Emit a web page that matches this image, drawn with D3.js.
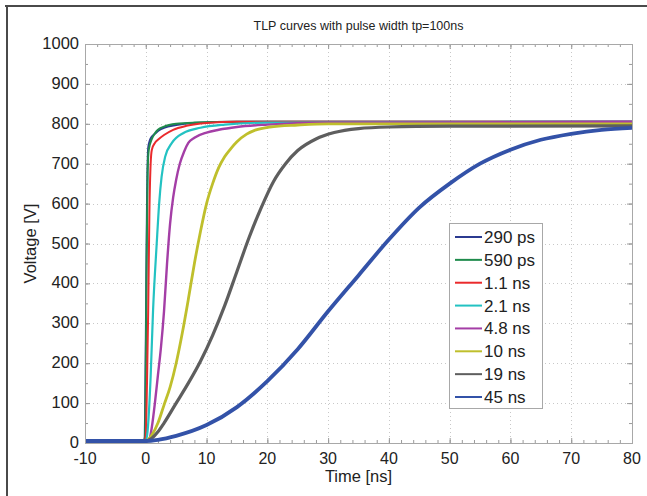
<!DOCTYPE html>
<html><head><meta charset="utf-8">
<script src="https://cdn.jsdelivr.net/npm/d3@7"></script>
<style>body{margin:0;background:#fff;} svg{display:block;font-family:"Liberation Sans",Arial,sans-serif;}</style>
</head><body>
<svg id="c" width="647" height="496"></svg>
<script>
// ---- data ----
const seriesNames = ["290 ps","590 ps","1.1 ns","2.1 ns","4.8 ns","10 ns","19 ns","45 ns"];
const seriesColors = ["#2b3a90","#1f8b4c","#ea2a2c","#23c2c2","#a43ea6","#bfbf2c","#5e5e5e","#3352a8"];
const t290 = [-10,-5,-0.5,-0.2,0,0.2,0.4,0.7,1.0,1.5,2.2,3,5,8,15,30,50,80];
const v290 = [5,5,5,10,250,600,740,760,768,775,784,790,797,802,805,805,805,805];
const t590 = [-10,-0.3,-0.1,0.1,0.3,0.5,1,1.5,2,3,5,8,15,80];
const v590 = [5,5,20,400,680,735,762,776,785,793,800,803,805,805];
const t1p1 = [-10,-0.2,0,0.2,0.4,0.6,0.8,1.0,1.5,2,3,4.5,6.7,10,15,80];
const v1p1 = [5,5,20,150,333,580,700,735,752,760,772,785,795,802,805,805];
const t2p1 = [-10,0,0.3,0.8,1.2,1.8,2.2,2.6,3.2,4.3,6.2,9,13,20,80];
const v2p1 = [5,5,30,166,333,500,600,667,718,752,777,790,798,803,805];
const t4p8 = [-10,0.3,0.7,1,1.5,2,2.5,3,3.5,4,4.5,5,5.6,6.3,7,8,10,12,15,20,30,80];
const v4p8 = [5,5,15,40,100,170,240,330,450,550,615,660,700,730,752,765,778,785,792,798,803,805];
const t10 = [-10,0,1,2,3,4,5,6,7,8,9,10,11,12,13,14,15,16.6,18,20.4,25,30,80];
const v10 = [5,5,20,50,95,140,200,275,360,450,530,600,650,690,718,738,755,774,784,792,797,800,800];
const t19 = [-10,0,1,2,3,5,7,9,11,13,15,17,19,21,23,25,28,31,35,40,50,80];
const v19 = [5,5,12,28,50,100,150,205,270,345,430,515,590,655,700,733,762,778,788,792,794,795];
const t45 = [-10,0,2,5,10,15,20,25,30,35,40,45,50,55,60,65,70,75,80];
const v45 = [5,5,8,18,45,90,155,235,330,420,510,590,650,700,735,760,775,785,790];
const xTicks = [-10,0,10,20,30,40,50,60,70,80];
const yTicks = [0,100,200,300,400,500,600,700,800,900,1000];

const times = [t290,t590,t1p1,t2p1,t4p8,t10,t19,t45];
const volts = [v290,v590,v1p1,v2p1,v4p8,v10,v19,v45];
const widths = [2,2,2,2.2,2.4,2.8,3.2,3.8];

// ---- layout ----
const svg = d3.select("#c");
const L=85, R=632, T=44, B=443;
const x = d3.scaleLinear().domain([-10,80]).range([L,R]);
const y = d3.scaleLinear().domain([0,1000]).range([B,T]);

// figure frame (top & left)
svg.append("line").attr("x1",5).attr("x2",647).attr("y1",6).attr("y2",6).attr("stroke","#4a4a4a").attr("stroke-width",2);
svg.append("line").attr("x1",7).attr("x2",7).attr("y1",5).attr("y2",496).attr("stroke","#4a4a4a").attr("stroke-width",2);

// grid
const grid = svg.append("g").attr("stroke","#c8c8c8").attr("stroke-width",1).attr("stroke-dasharray","1,3");
xTicks.slice(1,-1).forEach(v=>grid.append("line").attr("x1",Math.round(x(v))+0.5).attr("x2",Math.round(x(v))+0.5).attr("y1",T).attr("y2",B));
yTicks.slice(1,-1).forEach(v=>grid.append("line").attr("y1",Math.round(y(v))+0.5).attr("y2",Math.round(y(v))+0.5).attr("x1",L).attr("x2",R));

// ticks via axes (inside, all four sides)
const minorX = d3.range(-10,80.1,2);
const minorY = d3.range(0,1000.1,50);
function tickAxis(axisFn, scale, vals, size, g){
  g.call(axisFn(scale).tickValues(vals).tickSize(size).tickFormat(""));
  g.select(".domain").remove();
  g.selectAll("line").attr("stroke","#9a9a9a");
}
tickAxis(d3.axisTop, x, minorX, 3, svg.append("g").attr("transform",`translate(0,${B})`));
tickAxis(d3.axisTop, x, xTicks, 5, svg.append("g").attr("transform",`translate(0,${B})`));
tickAxis(d3.axisBottom, x, minorX, 3, svg.append("g").attr("transform",`translate(0,${T})`));
tickAxis(d3.axisBottom, x, xTicks, 5, svg.append("g").attr("transform",`translate(0,${T})`));
tickAxis(d3.axisRight, y, minorY, 3, svg.append("g").attr("transform",`translate(${L},0)`));
tickAxis(d3.axisRight, y, yTicks, 5, svg.append("g").attr("transform",`translate(${L},0)`));
tickAxis(d3.axisLeft, y, minorY, 3, svg.append("g").attr("transform",`translate(${R},0)`));
tickAxis(d3.axisLeft, y, yTicks, 5, svg.append("g").attr("transform",`translate(${R},0)`));

// curves
svg.append("defs").append("clipPath").attr("id","clip").append("rect").attr("x",L).attr("y",T).attr("width",R-L).attr("height",B-T);
const line = d3.line().x(d=>x(d[0])).y(d=>y(d[1])).curve(d3.curveMonotoneX);
const cg = svg.append("g").attr("clip-path","url(#clip)");
seriesNames.forEach((n,i)=>{
  const pts = times[i].map((t,j)=>[t,volts[i][j]]);
  cg.append("path").attr("d",line(pts)).attr("fill","none").attr("stroke",seriesColors[i]).attr("stroke-width",widths[i]).attr("stroke-linejoin","round");
});

// box
svg.append("rect").attr("x",L+0.5).attr("y",T+0.5).attr("width",R-L).attr("height",B-T).attr("fill","none").attr("stroke","#a8a8a8").attr("stroke-width",1);

// tick labels
const fs = 16.5;
svg.append("g").selectAll("text").data(xTicks).join("text")
  .attr("x",d=>x(d)).attr("y",B+21).attr("text-anchor","middle").attr("font-size",16).attr("fill","#222").text(d=>d);
svg.append("g").selectAll("text").data(yTicks).join("text")
  .attr("x",L-6).attr("y",d=>y(d)+5).attr("text-anchor","end").attr("font-size",fs).attr("fill","#222").text(d=>d);

// axis titles
svg.append("text").attr("x",(L+R)/2).attr("y",B+39).attr("text-anchor","middle").attr("font-size",fs).attr("fill","#222").text("Time [ns]");
svg.append("text").attr("transform",`translate(36,${(T+B)/2}) rotate(-90)`).attr("text-anchor","middle").attr("font-size",fs).attr("fill","#222").text("Voltage [V]");
svg.append("text").attr("x",(L+R)/2).attr("y",30).attr("text-anchor","middle").attr("font-size",12.5).attr("fill","#222").text("TLP curves with pulse width tp=100ns");

// legend
const lg = svg.append("g");
lg.append("rect").attr("x",449.5).attr("y",223.5).attr("width",93).attr("height",185).attr("fill","#fff").attr("stroke","#a8a8a8");
seriesNames.forEach((n,i)=>{
  const yy = 237 + i*22.86;
  lg.append("line").attr("x1",455).attr("x2",482).attr("y1",yy).attr("y2",yy).attr("stroke",seriesColors[i]).attr("stroke-width",2);
  lg.append("text").attr("x",484).attr("y",yy+6).attr("font-size",17).attr("fill","#222").text(n);
});
</script>
</body></html>
